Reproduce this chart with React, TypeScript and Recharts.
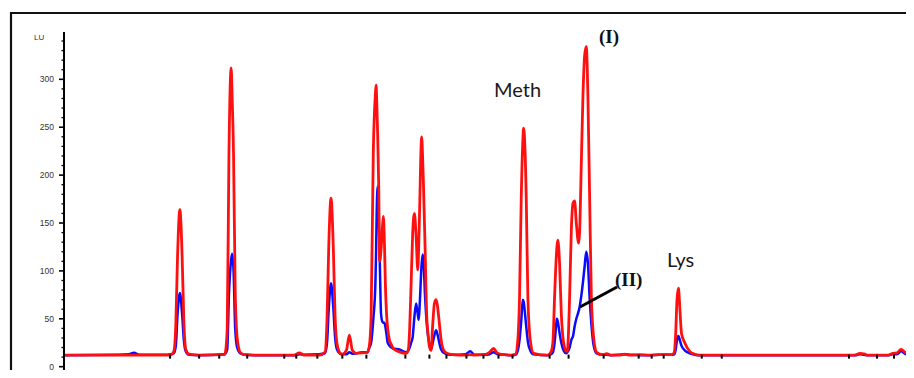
import React from "react";
import { ComposedChart, Line, XAxis, YAxis, Scatter } from "recharts";

// Retention time (min)
const retentionTime = [
  0.0, 0.641, 0.758, 0.816, 0.874, 0.991, 1.2, 1.247, 1.279, 1.302, 1.322, 1.349, 1.375, 1.395, 1.418, 1.457,
  1.573, 1.865, 1.876, 1.9, 1.92, 1.946, 1.958, 1.974, 1.993, 2.016, 2.051, 2.098, 2.214, 2.681, 2.739, 2.797,
  2.972, 3.038, 3.062, 3.082, 3.108, 3.135, 3.155, 3.178, 3.217, 3.24, 3.287, 3.322, 3.357, 3.403, 3.473, 3.531,
  3.555, 3.575, 3.601, 3.625, 3.633, 3.64, 3.652, 3.663, 3.675, 3.691, 3.706, 3.718, 3.73, 3.741, 3.757, 3.768,
  3.788, 3.811, 3.834, 3.904, 3.986, 4.009, 4.024, 4.041, 4.059, 4.079, 4.099, 4.118, 4.129, 4.138, 4.164, 4.176,
  4.184, 4.204, 4.223, 4.234, 4.254, 4.274, 4.293, 4.312, 4.332, 4.347, 4.362, 4.39, 4.429, 4.487, 4.604, 4.674,
  4.728, 4.779, 4.895, 4.953, 5.0, 5.047, 5.128, 5.21, 5.256, 5.283, 5.303, 5.323, 5.341, 5.35, 5.381, 5.4,
  5.428, 5.466, 5.629, 5.672, 5.691, 5.711, 5.731, 5.738, 5.749, 5.769, 5.789, 5.816, 5.847, 5.859, 5.886, 5.906,
  5.926, 5.944, 5.964, 5.991, 6.002, 6.022, 6.041, 6.061, 6.08, 6.099, 6.119, 6.139, 6.166, 6.2, 6.27, 6.317,
  6.375, 6.469, 6.527, 6.585, 6.702, 6.818, 6.935, 7.075, 7.104, 7.121, 7.136, 7.153, 7.168, 7.188, 7.226, 7.284,
  7.343, 7.401, 9.207, 9.266, 9.312, 9.359, 9.592, 9.65, 9.697, 9.744, 9.79, 9.848, 9.895,
];

// Trace (I) — red
const traceI = [
  12, 12, 12, 12, 12, 12, 12, 12.5, 16, 45, 116, 164, 116, 48, 18, 13,
  12, 12.5, 14, 40, 220, 312, 280, 220, 80, 30, 15, 12.5, 12, 12, 14.5, 12,
  12, 15, 50, 125, 176, 125, 55, 24, 14, 13, 17, 33, 17, 14, 14.5, 15,
  22, 52, 226, 285, 294, 280, 240, 192, 110, 122, 145, 157, 130, 87, 52, 40,
  28, 23, 19, 15.5, 14, 18, 40, 87, 139, 160, 136, 101, 125, 157, 240, 215,
  192, 122, 52, 38, 21, 17, 45, 66, 70, 64, 52, 28, 16, 13, 12, 12,
  12.5, 12, 12.5, 15, 19, 14, 12.5, 12, 13, 28, 73, 177, 235, 249, 177, 73,
  28, 14, 12, 16, 25, 73, 115, 125, 132, 108, 56, 25, 16, 16, 73, 143,
  171, 173, 150, 129, 140, 212, 282, 325, 334, 282, 177, 73, 30, 15, 12.5, 13.5,
  12, 12, 13, 12, 12.5, 12, 12.5, 12.5, 15, 35, 70, 82, 63, 35, 25, 16,
  13, 12, 12, 14, 13.5, 12, 12, 14, 14.5, 18, 15, 13, 12.5,
];

// Trace (II) — blue
const traceII = [
  12, 12.5, 13, 14.5, 12.5, 12.5, 12.5, 13, 14, 22, 55, 77, 55, 28, 16, 12.5,
  12, 13, 13.5, 18, 75, 112, 118, 100, 40, 20, 14, 12.5, 12, 12, 13, 12.5,
  13, 14, 25, 60, 87, 62, 32, 18, 13.5, 13, 13, 15, 13.5, 14, 15, 15,
  20, 25, 50, 87, 120, 160, 188, 160, 115, 55, 47, 46, 46, 42, 32, 25,
  22, 20, 19, 18, 15, 17, 20, 25, 31, 52, 66, 55, 49, 60, 108, 117,
  112, 72, 45, 35, 24, 18, 25, 33, 38, 34, 28, 18, 14, 12.5, 12.5, 13,
  16, 12.5, 12.5, 13, 15, 13, 12.5, 12, 12.5, 17, 28, 48, 70, 68, 42, 26,
  17, 13, 12, 13, 15, 25, 45, 50, 47, 35, 25, 17, 14, 15, 20, 28,
  32, 42, 50, 58, 62, 74, 88, 105, 120, 108, 72, 45, 22, 14, 12.5, 12.5,
  12, 12.5, 13, 12.5, 12, 12, 12.5, 12.5, 13, 18, 28, 32, 28, 22, 17, 14,
  12.5, 12, 12, 13, 12.5, 12, 12, 13, 13, 16, 13.5, 12.5, 12,
];

// Integration markers on the baseline
const markerTimes = [
  1.235, 1.573, 1.807, 2.133, 2.564, 2.704, 2.949, 3.24, 3.52, 3.974, 4.254, 4.452, 4.685, 4.883,
  5.058, 5.221, 5.653, 5.874, 6.282, 6.69, 6.841, 6.981, 7.424, 7.657, 9.138, 9.464, 9.662,
];
const markerLevel = 10.5;

const xTicks = [
  0, 0.25, 0.5, 0.75, 1, 1.25, 1.5, 1.75, 2, 2.25, 2.5, 2.75, 3, 3.25, 3.5, 3.75, 4, 4.25, 4.5, 4.75,
  5, 5.25, 5.5, 5.75, 6, 6.25, 6.5, 6.75, 7, 7.25, 7.5, 7.75, 8, 8.25, 8.5, 8.75, 9, 9.25, 9.5, 9.75,
];
const yTicks = [
  0, 10, 20, 30, 40, 50, 60, 70, 80, 90, 100, 110, 120, 130, 140, 150, 160, 170, 180, 190, 200,
  210, 220, 230, 240, 250, 260, 270, 280, 290, 300, 310, 320, 330, 340,
];
const yLabelValues = [0, 50, 100, 150, 200, 250, 300];

const rows = retentionTime.map((t, i) => ({ time: t, sampleI: traceI[i], sampleII: traceII[i] }));
const markers = markerTimes.map((t) => ({ time: t, mark: markerLevel }));

const YTick = (props: any) => {
  const { x, y, payload } = props;
  const v = payload.value;
  const major = yLabelValues.includes(v);
  return (
    <g>
      <line x1={x - (major ? 5 : 2.5)} x2={x} y1={y} y2={y} stroke="#000" strokeWidth={major ? 1.6 : 1.3} />
      {major && (
        <text x={x - 10} y={y + 3} textAnchor="end" fontSize={8.5} fontFamily="'Liberation Sans', Arial, sans-serif" fill="#333">
          {v}
        </text>
      )}
    </g>
  );
};

const XTick = (props: any) => {
  const { x, y, payload } = props;
  const major = Math.abs(payload.value - Math.round(payload.value)) < 1e-6;
  return <line x1={x} x2={x} y1={y} y2={y + (major ? 5 : 3)} stroke="#000" strokeWidth={major ? 1.8 : 1.4} />;
};

const MarkerShape = (props: any) => {
  const { cx, cy } = props;
  return <rect x={cx - 1} y={cy - 2} width={2} height={4} fill="#000" />;
};

export default function App() {
  return (
    <div style={{ position: "relative", width: 914, height: 378, margin: "-8px", background: "#fff", overflow: "hidden" }}>
      <ComposedChart
        width={914}
        height={378}
        data={rows}
        margin={{ top: 32, right: 0, bottom: 0, left: 0 }}
      >
        <XAxis
          dataKey="time"
          type="number"
          domain={[0, 9.895]}
          ticks={xTicks}
          interval={0}
          allowDataOverflow
          height={7}
          tickSize={0}
          tickMargin={0}
          tickLine={false}
          axisLine={{ stroke: "#000", strokeWidth: 2 }}
          tick={<XTick />}
        />
        <YAxis
          type="number"
          domain={[-4.5, 349.4]}
          ticks={yTicks}
          interval={0}
          allowDataOverflow
          width={64}
          tickSize={0}
          tickMargin={0}
          tickLine={false}
          axisLine={{ stroke: "#000", strokeWidth: 2 }}
          tick={<YTick />}
        />
        <Line
          type="monotone"
          dataKey="sampleII"
          stroke="#0a0aff"
          strokeWidth={2.5}
          dot={false}
          isAnimationActive={false}
        />
        <Line
          type="monotone"
          dataKey="sampleI"
          stroke="#ff1010"
          strokeWidth={2.8}
          dot={false}
          isAnimationActive={false}
        />
        <Scatter data={markers} dataKey="mark" shape={<MarkerShape />} isAnimationActive={false} />
      </ComposedChart>
      <svg
        width={914}
        height={378}
        style={{ position: "absolute", left: 0, top: 0, pointerEvents: "none" }}
      >
        <polyline points="11,378 11,13 914,13" fill="none" stroke="#111" strokeWidth={2.2} />
        <text x={34} y={40} fontSize={8} fontFamily="'Liberation Sans', Arial, sans-serif" fill="#333">LU</text>
        <text x={494} y={97} fontSize={20} fontFamily="Lato, 'Open Sans', sans-serif" fill="#1a1a1a">Meth</text>
        <text x={667} y={267} fontSize={20} fontFamily="Lato, 'Open Sans', sans-serif" fill="#1a1a1a">Lys</text>
        <text x={599} y={43} fontSize={19} fontWeight="bold" fontFamily="'Liberation Serif', 'Times New Roman', serif" fill="#111">(I)</text>
        <text x={615} y={286} fontSize={19} fontWeight="bold" fontFamily="'Liberation Serif', 'Times New Roman', serif" fill="#111">(II)</text>
        <line x1={580} y1={307} x2={617} y2={287} stroke="#000" strokeWidth={3} />
      </svg>
    </div>
  );
}
